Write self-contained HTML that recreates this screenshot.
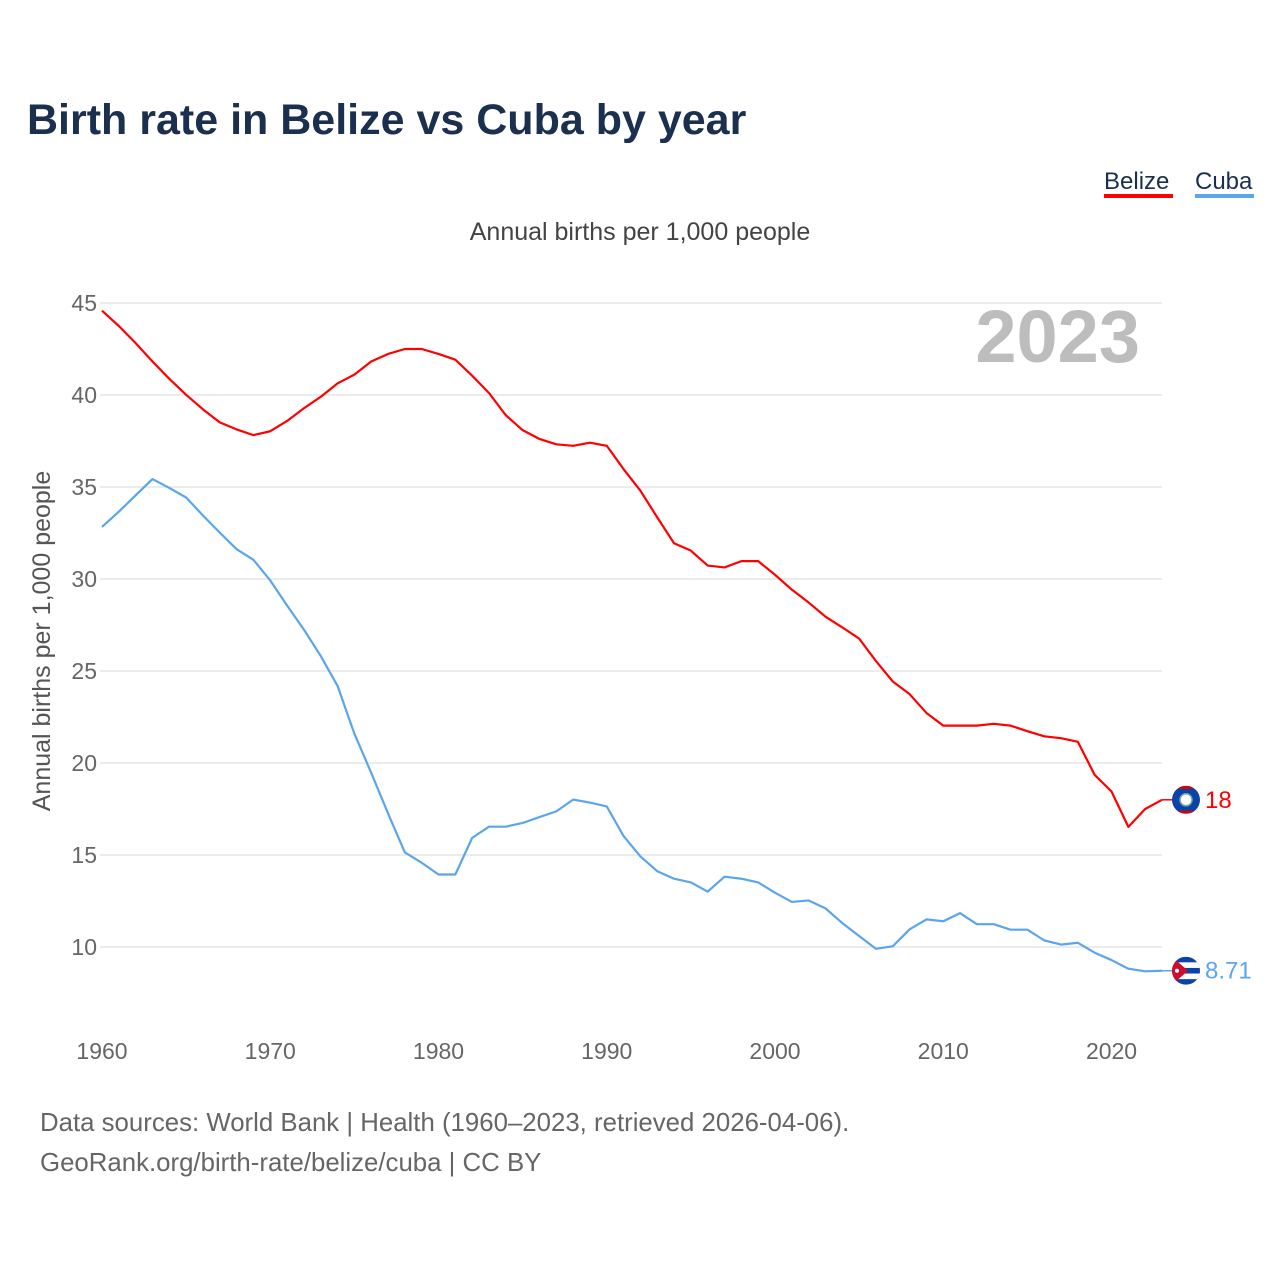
<!DOCTYPE html>
<html><head><meta charset="utf-8"><style>
body{margin:0;background:#fff;width:1280px;height:1280px;overflow:hidden;font-family:"Liberation Sans",sans-serif}
</style></head><body>
<svg id="chart" width="1280" height="1280" xmlns="http://www.w3.org/2000/svg" font-family="Liberation Sans, sans-serif">
<defs>
<clipPath id="cb"><circle cx="1186" cy="0" r="14" id="cbc"/></clipPath>
<clipPath id="cc"><circle cx="1186" cy="0" r="14" id="ccc"/></clipPath>
</defs>
<text x="27" y="134" font-size="43" font-weight="bold" fill="#1b2f4e">Birth rate in Belize vs Cuba by year</text>
<g><text x="1104" y="189" font-size="24" fill="#1b2f4e">Belize</text><rect x="1104" y="194" width="69" height="4" fill="#ff0000"/></g>
<g><text x="1195" y="189" font-size="24" fill="#1b2f4e">Cuba</text><rect x="1195" y="194" width="59" height="4" fill="#5aa5ec"/></g>
<text x="640" y="240" font-size="25" fill="#444" text-anchor="middle">Annual births per 1,000 people</text>
<text transform="translate(50,641) rotate(-90)" font-size="25" fill="#555" text-anchor="middle">Annual births per 1,000 people</text>
<text x="1140" y="362" font-size="74" font-weight="bold" fill="#bdbdbd" text-anchor="end">2023</text>
<g id="grid"></g><g id="xt"></g><g id="lines"></g>
<text x="40" y="1131" font-size="25.8" fill="#666">Data sources: World Bank | Health (1960–2023, retrieved 2026-04-06).</text>
<text x="40" y="1171" font-size="25.8" fill="#666">GeoRank.org/birth-rate/belize/cuba | CC BY</text>
</svg>
<script>
const years=[];for(let y=1960;y<=2023;y++)years.push(y);
const belize=[44.58,43.75,42.82,41.82,40.88,40.01,39.22,38.51,38.13,37.82,38.03,38.59,39.28,39.90,40.63,41.11,41.82,42.23,42.50,42.50,42.23,41.92,41.05,40.11,38.90,38.09,37.61,37.32,37.24,37.41,37.24,35.97,34.8,33.35,31.94,31.54,30.73,30.63,30.97,30.97,30.23,29.42,28.72,27.95,27.37,26.76,25.54,24.43,23.74,22.72,22.03,22.03,22.03,22.13,22.03,21.73,21.45,21.35,21.15,19.35,18.45,16.53,17.5,18.0];
const cuba=[32.83,33.66,34.55,35.43,34.95,34.43,33.45,32.52,31.62,31.04,29.92,28.56,27.25,25.82,24.19,21.59,19.47,17.26,15.14,14.58,13.94,13.94,15.93,16.54,16.54,16.74,17.06,17.37,18.01,17.85,17.64,16.03,14.92,14.12,13.71,13.51,13.01,13.82,13.71,13.51,12.95,12.45,12.53,12.1,11.3,10.6,9.9,10.04,10.96,11.5,11.4,11.84,11.24,11.24,10.94,10.94,10.36,10.13,10.23,9.69,9.29,8.82,8.68,8.71];
const yTicks=[10,15,20,25,30,35,40,45];
const xTicks=[1960,1970,1980,1990,2000,2010,2020];
const NS="http://www.w3.org/2000/svg";
const X=y=>102+(y-1960)*(1060/63);
const Y=v=>303+(45-v)*(644/35);
function mk(t,a,p){const e=document.createElementNS(NS,t);for(const k in a)e.setAttribute(k,a[k]);p.appendChild(e);return e;}
const g=document.getElementById('grid');
yTicks.forEach(v=>{
 const l=mk('line',{x1:100,x2:1162,y1:Y(v),y2:Y(v),stroke:'#e6e6e6','stroke-width':1.5},g);
 
 
 const t=mk('text',{x:97,y:Y(v)+8,'font-size':23,fill:'#666','text-anchor':'end'},g);t.textContent=v;
 
 
});
const xt=document.getElementById('xt');
xTicks.forEach(v=>{
 const t=mk('text',{x:X(v),y:1059,'font-size':23,fill:'#666','text-anchor':'middle'},xt);t.textContent=v;
 
 
});
const L=document.getElementById('lines');
function series(vals,color,name,label){
 const p=mk('polyline',{points:vals.map((v,i)=>X(years[i])+','+Y(v)).join(' '),fill:'none',stroke:color,'stroke-width':2.2,'stroke-linejoin':'round'},L);
 
 
 const last=vals[vals.length-1],ly=Y(last);
 mk('line',{x1:X(2023),x2:1172,y1:ly,y2:ly,stroke:color,'stroke-width':1.5},L);
 const cid=name==='belize'?'cb':'cc';
 document.getElementById(cid+'c').setAttribute('cy',ly);
 const fg=mk('g',{'clip-path':'url(#'+cid+')'},L);
 
 
 mk('rect',{x:1172,y:ly-14,width:28,height:28,fill:'#0a44a8'},fg);
 if(name==='belize'){mk('circle',{cx:1186,cy:ly,r:6,fill:'#fff',stroke:'#7a9','stroke-width':1.5},fg);mk('rect',{x:1172,y:ly-14,width:28,height:3,fill:'#d00'},fg);mk('rect',{x:1172,y:ly+11,width:28,height:3,fill:'#d00'},fg);}
 else{mk('rect',{x:1172,y:ly-8.4,width:28,height:5.6,fill:'#fff'},fg);mk('rect',{x:1172,y:ly+2.8,width:28,height:5.6,fill:'#fff'},fg);mk('path',{d:`M1172 ${ly-14} L1188 ${ly} L1172 ${ly+14} Z`,fill:'#cc0d2e'},fg);mk('circle',{cx:1177,cy:ly,r:2,fill:'#fff'},fg);}
 const t=mk('text',{x:1205,y:ly+8,'font-size':24,fill:color},L);t.textContent=label;
 
 
}
series(belize,'#ff0000','belize','18');
series(cuba,'#5aa5ec','cuba','8.71');
</script>
</body></html>
